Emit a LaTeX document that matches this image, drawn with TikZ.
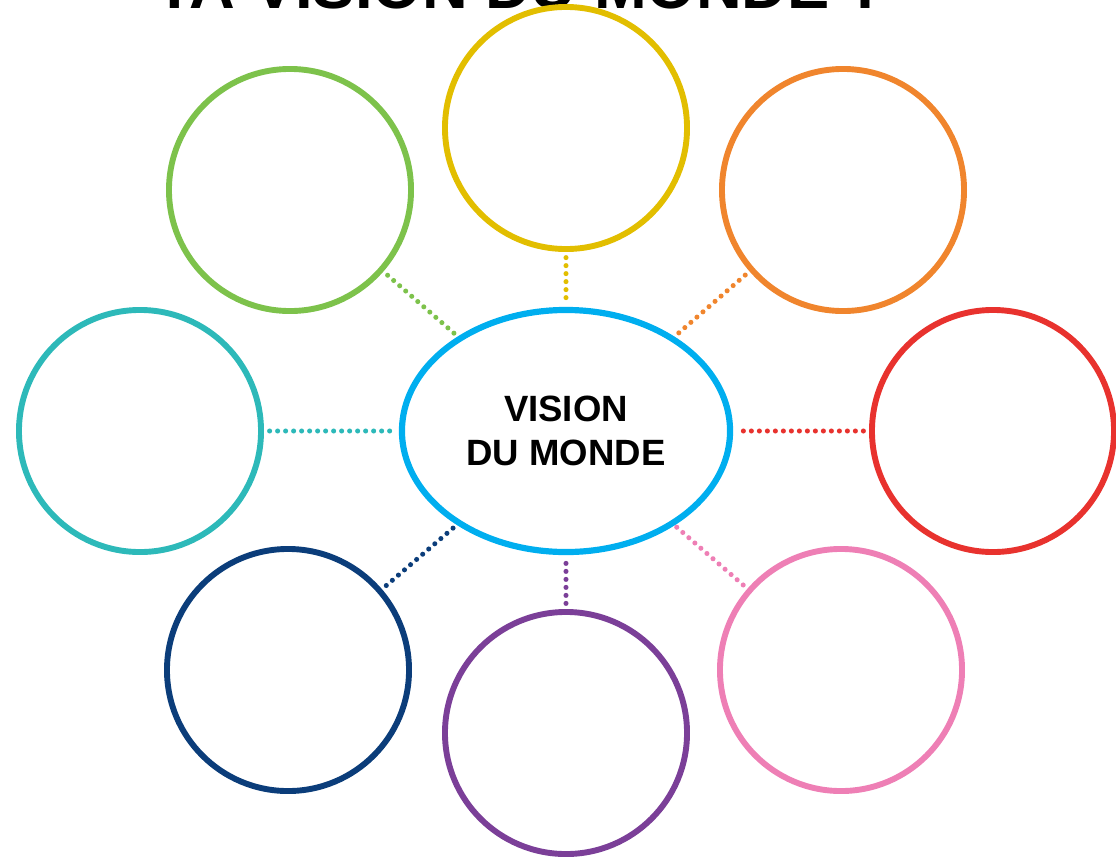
\documentclass[tikz,border=0pt]{standalone}
\usepackage{fontspec}
\setmainfont{Liberation Sans}
\usetikzlibrary{shapes.geometric}

\definecolor{cyanblue}{RGB}{0,174,239}
\definecolor{yellowc}{RGB}{226,190,0}
\definecolor{greenc}{RGB}{125,194,75}
\definecolor{orangec}{RGB}{240,133,45}
\definecolor{tealc}{RGB}{45,185,185}
\definecolor{redc}{RGB}{232,50,46}
\definecolor{navyc}{RGB}{11,61,122}
\definecolor{purplec}{RGB}{123,63,152}
\definecolor{pinkc}{RGB}{238,127,181}

\tikzset{
		bubble/.style={circle,draw,line width=4.2pt,minimum size=6.05cm,inner sep=0pt},
		hub/.style={ellipse,draw=cyanblue,line width=4.4pt,minimum width=8.2cm,minimum height=6.05cm,inner sep=0pt,
			font=\fontsize{26}{31}\selectfont\bfseries,align=center},
		link/.style={line width=3.6pt,line cap=round,dash pattern=on 0pt off 0.2cm,shorten <=4pt,shorten >=2pt},
		titlefont/.style={font=\fontsize{45}{50}\selectfont\bfseries}
	}

\begin{document}
\begin{tikzpicture}[x=0.025cm,y=-0.025cm]
				\useasboundingbox (0,0) rectangle (1116,862);
				\clip (0,0) rectangle (1116,862);
				\node[titlefont,anchor=base] (title) at (521,8) {TA VISION DU MONDE ?};
				\node[hub] (vision) at (566,431) {VISION\\DU MONDE};
				\node[bubble,draw=yellowc] (top) at (566,128) {};
				\node[bubble,draw=greenc] (topleft) at (290,190) {};
				\node[bubble,draw=orangec] (topright) at (843,190) {};
				\node[bubble,draw=tealc] (left) at (140,431) {};
				\node[bubble,draw=redc] (right) at (993,431) {};
				\node[bubble,draw=navyc] (botleft) at (288,670) {};
				\node[bubble,draw=purplec] (bottom) at (566,733) {};
				\node[bubble,draw=pinkc] (botright) at (841,670) {};
				% dotted links
				\draw[link,yellowc] (top) -- (vision);
				\draw[link,greenc] (topleft) -- (vision);
				\draw[link,orangec] (topright) -- (vision);
				\draw[link,tealc] (left) -- (vision);
				\draw[link,redc] (right) -- (vision);
				\draw[link,navyc] (botleft) -- (vision);
				\draw[link,purplec] (bottom) -- (vision);
				\draw[link,pinkc] (botright) -- (vision);
			\end{tikzpicture}
\end{document}
